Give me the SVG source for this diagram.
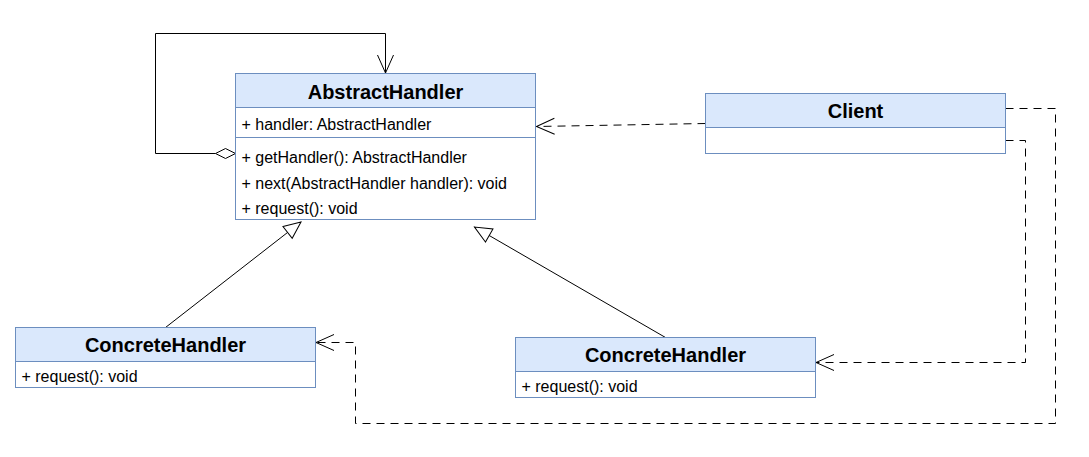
<svg xmlns="http://www.w3.org/2000/svg" width="1089" height="457" viewBox="0 0 1089 457">
<style>
.hdr{fill:#dae8fc;stroke:#6c8ebf;stroke-width:1}
.body{fill:#ffffff;stroke:#6c8ebf;stroke-width:1}
.div{stroke:#6c8ebf;stroke-width:1;fill:none}
.title{font-family:"Liberation Sans",Arial,sans-serif;font-size:20px;font-weight:bold;fill:#000;text-anchor:middle}
.item{font-family:"Liberation Sans",Arial,sans-serif;font-size:16px;fill:#000}
.edge{fill:none;stroke:#000;stroke-width:1}
.dash{stroke-dasharray:8 6}
</style>
<defs>
<marker id="open" markerUnits="userSpaceOnUse" markerWidth="24" markerHeight="20" viewBox="-19 -10 21 20" refX="0" refY="0" orient="auto">
<path d="M-18,-8 L0,0 L-18,8" fill="none" stroke="#000" stroke-width="1"/>
</marker>
<marker id="tri" markerUnits="userSpaceOnUse" markerWidth="24" markerHeight="20" viewBox="-19 -10 21 20" refX="0" refY="0" orient="auto">
<path d="M-17,-7.5 L0,0 L-17,7.5 Z" fill="#fff" stroke="#000" stroke-width="1"/>
</marker>
</defs>

<g id="connectors">
<!-- self aggregation loop -->
<path class="edge" d="M215.5,153.5 L155.5,153.5 L155.5,33.5 L385.5,33.5 L385.5,73" marker-end="url(#open)"/>
<path d="M235.5,153.5 L225.5,148.5 L215.5,153.5 L225.5,158.5 Z" fill="#fff" stroke="#000" stroke-width="1"/>
<!-- generalizations -->
<path class="edge" d="M165.5,327.5 L301,222" marker-end="url(#tri)"/>
<path class="edge" d="M665.5,337.5 L474.5,227" marker-end="url(#tri)"/>
<!-- dependencies from Client -->
<path class="edge dash" d="M705.5,123.5 L536.5,126.5" marker-end="url(#open)"/>
<path class="edge dash" d="M1005.5,140.5 L1025.5,140.5 L1025.5,362.5 L816,362.5" marker-end="url(#open)"/>
<path class="edge dash" d="M1005.5,108.5 L1055.5,108.5 L1055.5,423.5 L355.5,423.5 L355.5,342.5 L316,342.5" marker-end="url(#open)"/>
</g>

<g id="AbstractHandler">
<rect class="body" x="235.5" y="73.5" width="300" height="146"/>
<rect class="hdr" x="235.5" y="73.5" width="300" height="34"/>
<line class="div" x1="235.5" y1="137.5" x2="535.5" y2="137.5"/>
<text class="title" x="385.5" y="98.5">AbstractHandler</text>
<text class="item" x="241.5" y="129.5">+ handler: AbstractHandler</text>
<text class="item" x="241.5" y="162.5">+ getHandler(): AbstractHandler</text>
<text class="item" x="241.5" y="188.5">+ next(AbstractHandler handler): void</text>
<text class="item" x="241.5" y="214">+ request(): void</text>
</g>

<g id="Client">
<rect class="body" x="705.5" y="93.5" width="300" height="60"/>
<rect class="hdr" x="705.5" y="93.5" width="300" height="34"/>
<text class="title" x="855.5" y="118.3">Client</text>
</g>

<g id="ConcreteHandler1">
<rect class="body" x="15.5" y="327.5" width="300" height="60"/>
<rect class="hdr" x="15.5" y="327.5" width="300" height="34"/>
<text class="title" x="165.5" y="352.3">ConcreteHandler</text>
<text class="item" x="21.5" y="382">+ request(): void</text>
</g>

<g id="ConcreteHandler2">
<rect class="body" x="515.5" y="337.5" width="300" height="60"/>
<rect class="hdr" x="515.5" y="337.5" width="300" height="34"/>
<text class="title" x="665.5" y="362.3">ConcreteHandler</text>
<text class="item" x="521.5" y="392">+ request(): void</text>
</g>
</svg>
